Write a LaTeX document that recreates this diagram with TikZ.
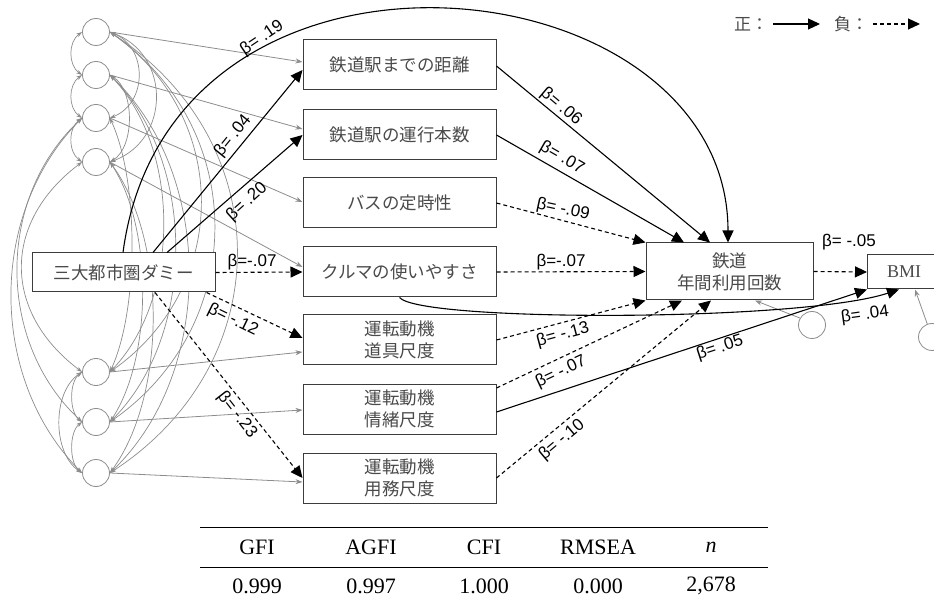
\documentclass[tikz,border=0pt]{standalone}
\usepackage{fontspec}
\setmainfont{Liberation Serif}
\newfontfamily\jpfont{Noto Sans CJK JP}
\newfontfamily\labfont{Liberation Sans}
\usetikzlibrary{arrows.meta,calc}
\definecolor{boxline}{HTML}{3C3C3C}
\definecolor{boxtext}{HTML}{4A4A4A}
\definecolor{errgray}{HTML}{8C8C8C}
\begin{document}
\begin{tikzpicture}[x=1pt,y=-1pt,
  varbox/.style={draw=boxline, fill=white, line width=1pt, minimum width=193pt, minimum height=50pt, inner sep=0pt, font=\jpfont\fontsize{17.5}{22}\selectfont, text=boxtext, align=center},
  errc/.style={circle, draw=errgray, fill=white, line width=0.8pt, minimum size=27pt, inner sep=0pt},
  posarr/.style={draw=black, line width=1.1pt, -{Triangle[length=12pt,width=11pt]}},
  negarr/.style={posarr, dash pattern=on 4pt off 3pt},
  errarr/.style={draw=errgray, line width=0.8pt, -{Stealth[length=7pt,width=5pt]}},
  corr/.style={draw=errgray, line width=0.7pt, {Stealth[length=6pt,width=4pt]}-{Stealth[length=6pt,width=4pt]}},
  betalab/.style={font=\labfont\fontsize{17}{17}\selectfont, inner sep=0pt},
  tabtext/.style={font=\fontsize{22}{22}\selectfont, inner sep=0pt},
  legtext/.style={font=\jpfont\fontsize{17}{17}\selectfont, text=boxtext, inner sep=0pt, anchor=west},
]
\useasboundingbox (0,0) rectangle (934,601);

% error circles
\node[errc] (e1) at (96,32) {};
\node[errc] (e2) at (96,75) {};
\node[errc] (e3) at (96,118) {};
\node[errc] (e4) at (96,162) {};
\node[errc] (e5) at (96,372) {};
\node[errc] (e6) at (96,422) {};
\node[errc] (e7) at (96,473) {};

% left correlation arcs
\draw[corr] (e1.west) .. controls +(-14,10) and +(-14,-10) .. (e2.west);
\draw[corr] (e2.west) .. controls +(-14,10) and +(-14,-10) .. (e3.west);
\draw[corr] (e3.west) .. controls +(-14,10) and +(-14,-10) .. (e4.west);
\draw[corr] (e5.west) .. controls +(-13,10) and +(-13,-10) .. (e6.west);
\draw[corr] (e6.west) .. controls +(-13,10) and +(-13,-10) .. (e7.west);
\draw[corr] (e5.west) .. controls +(-30,20) and +(-30,-20) .. (e7.west);
\draw[corr] (e4.west) .. controls +(-80,60) and +(-80,-60) .. (e5.west);
\draw[corr] (e3.west) .. controls +(-86,80) and +(-86,-80) .. (e6.west);
\draw[corr] (e3.west) .. controls +(-94,95) and +(-94,-95) .. (e7.west);
% right correlation arcs
\draw[corr] (e1.east) .. controls +(38,15) and +(38,-15) .. (e3.east);
\draw[corr] (e1.east) .. controls +(61,22) and +(61,-22) .. (e4.east);
\draw[corr] (e2.east) .. controls +(25,15) and +(25,-15) .. (e4.east);
\draw[corr] (e3.east) .. controls +(29,63) and +(29,-63) .. (e5.east);
\draw[corr] (e4.east) .. controls +(43,65) and +(43,-65) .. (e6.east);
\draw[corr] (e4.east) .. controls +(57,78) and +(57,-78) .. (e7.east);
\draw[corr] (e2.east) .. controls +(71,74) and +(71,-74) .. (e5.east);
\draw[corr] (e2.east) .. controls +(87,87) and +(87,-87) .. (e6.east);
\draw[corr] (e2.east) .. controls +(105,100) and +(105,-100) .. (e7.east);
\draw[corr] (e1.east) .. controls +(121,85) and +(121,-85) .. (e5.east);
\draw[corr] (e1.east) .. controls +(139,97) and +(139,-97) .. (e6.east);
\draw[corr] (e1.east) .. controls +(169,110) and +(169,-110) .. (e7.east);

% boxes
\node[varbox, minimum width=183pt, minimum height=39pt] (D) at (123.5,272.5) {三大都市圏ダミー};
\node[varbox] (A1) at (399.5,65) {鉄道駅までの距離};
\node[varbox] (A2) at (399.5,135) {鉄道駅の運行本数};
\node[varbox] (A3) at (399.5,203) {バスの定時性};
\node[varbox] (A4) at (399.5,272) {クルマの使いやすさ};
\node[varbox] (A5) at (399.5,340) {運転動機\\道具尺度};
\node[varbox] (A6) at (399.5,409) {運転動機\\情緒尺度};
\node[varbox] (A7) at (399.5,478) {運転動機\\用務尺度};
\node[varbox, minimum width=167pt, minimum height=57pt] (R) at (729.5,271.5) {鉄道\\年間利用回数};
\node[varbox, minimum width=73pt, minimum height=34pt, font=\fontsize{18}{18}\selectfont] (BMI) at (904,272) {BMI};
\node[errc] (eR) at (812,325) {};
\node[errc] (eB) at (932,337) {};

% error arrows
\draw[errarr] (e1.east) -- ($(A1.west)+(0,-3)$);
\draw[errarr] (e2.east) -- ($(A2.west)+(0,-6)$);
\draw[errarr] (e3.east) -- ($(A3.west)+(0,-1)$);
\draw[errarr] (e4.east) -- ($(A4.west)+(0,-5)$);
\draw[errarr] (e5.east) -- ($(A5.west)+(0,12)$);
\draw[errarr] (e6.east) -- ($(A6.west)+(0,1)$);
\draw[errarr] (e7.east) -- ($(A7.west)+(0,4)$);
\draw[errarr] (eR.150) -- ($(R.south)+(25.5,0)$);
\draw[errarr] (eB.110) -- ($(BMI.south)+(11,0)$);

% paths from D
\draw[posarr] ($(D.north)+(-0.5,0)$) .. controls (170,-100) and (728,-40) .. ($(R.north)+(-1.5,0)$);
\draw[posarr] ($(D.north)+(29.5,0)$) -- ($(A1.west)+(0,5)$);
\draw[posarr] ($(D.north)+(43.5,0)$) -- (A2.west);
\draw[negarr] (D.east) -- (A4.west);
\draw[negarr] ($(D.south)+(83,0)$) -- ($(A5.west)+(0,-2)$);
\draw[negarr] ($(D.south)+(31.5,0)$) -- (A7.west);

% paths to R
\draw[posarr] ($(A1.east)+(0,1)$) -- ($(R.north)+(-19.5,0)$);
\draw[posarr] (A2.east) -- ($(R.north)+(-45.5,0)$);
\draw[negarr] (A3.east) -- (R.north west);
\draw[negarr] (A4.east) -- (R.west);
\draw[negarr] (A5.east) -- (R.south west);
\draw[negarr] ($(A6.east)+(0,-21)$) -- ($(R.south)+(-47.5,0)$);
\draw[negarr] (A7.east) -- ($(R.south)+(-18.5,0)$);

% paths to BMI
\draw[posarr] ($(A6.east)+(0,3)$) -- (BMI.south west);
\draw[posarr] (A4.south) .. controls (420,322) and (800,322) .. ($(BMI.south)+(-5,0)$);
\draw[negarr] (R.east) -- (BMI.west);

% labels
\node[betalab, rotate=34] (l19) at (262,38) {β= .19};
\node[betalab, rotate=51] (l04) at (233,136) {β= .04};
\node[betalab, rotate=42] (l20) at (247,202) {β= .20};
\node[betalab] (lda) at (252,262) {β=-.07};
\node[betalab, rotate=-26] (l12) at (233,320) {β= -.12};
\node[betalab, rotate=-52] (l23) at (237,415) {β= -.23};
\node[betalab, rotate=-40] (l06) at (561,107) {β= .06};
\node[betalab, rotate=-30] (l07a) at (562,158) {β= .07};
\node[betalab, rotate=-12] (l09) at (563,210) {β= -.09};
\node[betalab] (lar) at (561,262) {β=-.07};
\node[betalab, rotate=15] (l13) at (563,335) {β= -.13};
\node[betalab, rotate=25] (l07b) at (561,372) {β= -.07};
\node[betalab, rotate=40] (l10) at (562,440) {β= -.10};
\node[betalab, rotate=18] (l05) at (720,348) {β= .05};
\node[betalab, rotate=8] (l04b) at (865,315) {β= .04};
\node[betalab] (l05b) at (849,242) {β= -.05};

% legend
\node[legtext] (lgp) at (734,24) {正：};
\coordinate (lgpe) at (820,24);
\draw[posarr] ($(lgp.east)+(5,0)$) -- (lgpe);
\node[legtext] (lgn) at (834,24) {負：};
\coordinate (lgne) at (920,24);
\draw[negarr] ($(lgn.east)+(5,0)$) -- (lgne);

% table
\draw[line width=0.8pt] (200,527) -- (768,527);
\draw[line width=0.8pt] (200,567) -- (768,567);
\node[tabtext] (h1) at (257,547) {GFI};
\node[tabtext] (h2) at (371,547) {AGFI};
\node[tabtext] (h3) at (484,547) {CFI};
\node[tabtext] (h4) at (598,547) {RMSEA};
\node[tabtext] (h5) at (711,547) {\textit{n}};
\node[tabtext] (v1) at (257,586) {0.999};
\node[tabtext] (v2) at (371,586) {0.997};
\node[tabtext] (v3) at (484,586) {1.000};
\node[tabtext] (v4) at (598,586) {0.000};
\node[tabtext] (v5) at (711,586) {2,678};
\end{tikzpicture}
\end{document}
